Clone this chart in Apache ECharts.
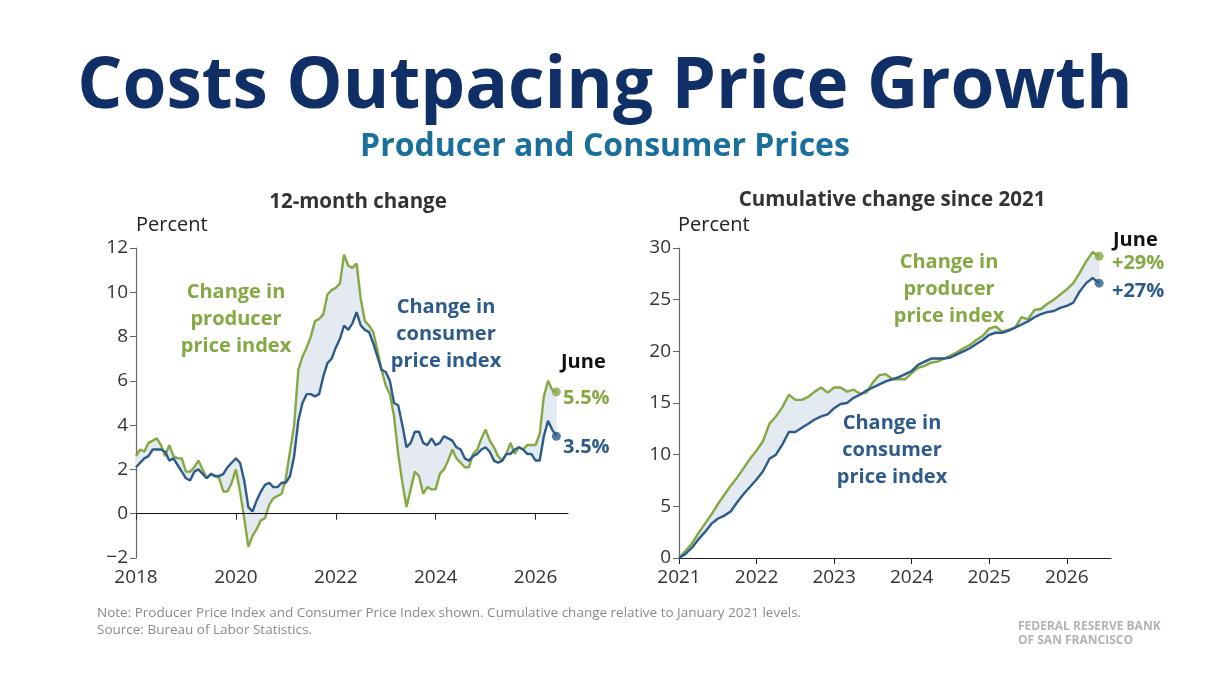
<!DOCTYPE html>
<html>
<head>
<meta charset="utf-8">
<title>Costs Outpacing Price Growth</title>
<script src="https://cdn.jsdelivr.net/npm/echarts@6/dist/echarts.min.js"></script>
<style>
  html, body { margin: 0; padding: 0; background: #fff; }
  #chart { width: 1210px; height: 680px; }
</style>
</head>
<body>
<div id="chart"></div>
<script>
// 12-month change, monthly from Jan 2018 to Jun 2026
const yoyStart = 2018;
const ppiYoY = [
  2.6, 2.9, 2.8, 3.2, 3.3, 3.4, 3.1, 2.6, 3.1, 2.6, 2.5, 2.5,
  1.9, 1.9, 2.1, 2.4, 2.0, 1.6, 1.8, 1.7, 1.6, 1.0, 1.0, 1.4,
  2.0, 1.0, -0.2, -1.5, -1.0, -0.7, -0.3, -0.2, 0.4, 0.7, 0.8, 0.9,
  1.6, 2.8, 4.0, 6.5, 7.1, 7.5, 8.0, 8.7, 8.8, 9.0, 9.9, 10.1,
  10.2, 10.4, 11.7, 11.2, 11.1, 11.3, 9.7, 8.7, 8.5, 8.2, 7.4, 6.5,
  5.8, 5.4, 4.4, 2.7, 1.4, 0.3, 1.1, 1.9, 1.7, 0.9, 1.2, 1.1,
  1.1, 1.8, 2.0, 2.4, 2.9, 2.5, 2.3, 2.1, 2.1, 2.7, 2.9, 3.4,
  3.8, 3.3, 3.0, 2.6, 2.4, 2.7, 3.2, 2.7, 3.0, 2.9, 3.1, 3.1,
  3.1, 3.6, 5.3, 6.0, 5.6, 5.5
];
const cpiYoY = [
  2.1, 2.3, 2.5, 2.6, 2.9, 2.9, 2.9, 2.8, 2.4, 2.5, 2.2, 1.9,
  1.6, 1.5, 1.9, 2.0, 1.8, 1.6, 1.8, 1.7, 1.7, 1.8, 2.1, 2.3,
  2.5, 2.3, 1.5, 0.3, 0.1, 0.6, 1.0, 1.3, 1.4, 1.2, 1.2, 1.4,
  1.4, 1.7, 2.6, 4.2, 5.0, 5.4, 5.4, 5.3, 5.4, 6.2, 6.8, 7.0,
  7.5, 7.9, 8.5, 8.3, 8.6, 9.1, 8.5, 8.3, 8.2, 7.7, 7.1, 6.5,
  6.4, 6.0, 5.0, 4.9, 4.0, 3.0, 3.2, 3.7, 3.7, 3.2, 3.1, 3.4,
  3.1, 3.2, 3.5, 3.4, 3.3, 3.0, 2.9, 2.5, 2.4, 2.6, 2.7, 2.9,
  3.0, 2.8, 2.4, 2.3, 2.4, 2.7, 2.7, 2.9, 3.0, 2.9, 2.7, 2.7,
  2.4, 2.4, 3.5, 4.2, 3.8, 3.5
];

// cumulative change since Jan 2021, monthly from Jan 2021 to Jun 2026
const cumStart = 2021;
const ppiCum = [
  0.0, 0.7, 1.4, 2.4, 3.3, 4.2, 5.2, 6.1, 7.0, 7.8, 8.7, 9.6,
  10.4, 11.3, 13.0, 13.7, 14.6, 15.8, 15.3, 15.3, 15.6, 16.1, 16.5, 16.0,
  16.5, 16.5, 16.1, 16.3, 15.9, 16.0, 17.0, 17.7, 17.8, 17.3, 17.3, 17.3,
  17.9, 18.4, 18.6, 18.9, 19.0, 19.3, 19.6, 19.9, 20.3, 20.6, 21.1, 21.5,
  22.2, 22.4, 21.9, 22.1, 22.3, 23.3, 23.1, 24.0, 24.1, 24.6, 25.0, 25.5,
  26.0, 26.6, 27.6, 28.7, 29.6, 29.2
];
const cpiCum = [
  0.0, 0.4, 1.0, 1.8, 2.5, 3.3, 3.8, 4.1, 4.5, 5.4, 6.2, 6.9,
  7.6, 8.4, 9.6, 10.0, 11.0, 12.2, 12.2, 12.6, 13.0, 13.4, 13.7, 13.9,
  14.5, 14.9, 15.0, 15.5, 15.8, 16.2, 16.5, 16.8, 17.1, 17.3, 17.5, 17.8,
  18.1, 18.7, 19.0, 19.3, 19.3, 19.3, 19.4, 19.7, 20.0, 20.3, 20.7, 21.1,
  21.6, 21.8, 21.8, 22.0, 22.3, 22.6, 22.9, 23.3, 23.6, 23.8, 23.9, 24.2,
  24.4, 24.7, 25.8, 26.6, 27.1, 26.6
];

const yoyYears = [2018, 2020, 2022, 2024, 2026];
const cumYears = [2021, 2022, 2023, 2024, 2025, 2026];

const GREEN = '#84a842';
const BLUE = '#2c5b8a';
const BAND = '#e4eaf1';
const FONT = 'Open Sans';

// month index -> decimal year
function toPairs(values, start) {
  return values.map((v, i) => [start + i / 12, v]);
}
function lastPoint(values, start) {
  const i = values.length - 1;
  return [[start + i / 12, values[i]]];
}

const chart = echarts.init(document.getElementById('chart'));

const axisLabelStyle = { fontFamily: FONT, fontSize: 19, color: '#333' };

// shaded gap between the two lines, one quad per month
function bandSeries(idx, a, b, start) {
  const rows = a.map((v, i) => [start + i / 12, v, b[i]]);
  return {
    type: 'custom', xAxisIndex: idx, yAxisIndex: idx, silent: true, z: 1,
    data: rows,
    renderItem: function (params, api) {
      const i = params.dataIndex;
      if (i >= rows.length - 1) return null;
      const n = rows[i + 1];
      const pts = [
        api.coord([rows[i][0], rows[i][1]]),
        api.coord([n[0], n[1]]),
        api.coord([n[0], n[2]]),
        api.coord([rows[i][0], rows[i][2]])
      ];
      return {
        type: 'polygon',
        shape: { points: pts },
        style: { fill: BAND, stroke: BAND, lineWidth: 0.8 }
      };
    }
  };
}

function lineSeries(idx, values, start, color, extra) {
  return Object.assign({
    type: 'line', xAxisIndex: idx, yAxisIndex: idx,
    data: toPairs(values, start),
    symbol: 'none', lineStyle: { color: color, width: 2.4 }, z: 3
  }, extra || {});
}

function dotSeries(idx, values, start, color) {
  return {
    type: 'scatter', xAxisIndex: idx, yAxisIndex: idx,
    data: lastPoint(values, start), symbolSize: 9,
    itemStyle: { color: color }, z: 4
  };
}

function txt(x, y, text, color, size, weight, align) {
  return {
    type: 'text', x: x, y: y, silent: true,
    style: {
      text: text, fill: color, fontFamily: FONT, fontSize: size,
      fontWeight: weight || 'normal', align: align || 'left', verticalAlign: 'middle'
    }
  };
}

function label3(cx, y0, lines, color) {
  return lines.map((s, i) => txt(cx, y0 + i * 27, s, color, 20, 'bold', 'center'));
}

const option = {
  backgroundColor: '#fff',
  animation: false,
  grid: [
    { left: 136, top: 248, width: 432, height: 310 },
    { left: 679, top: 248, width: 432, height: 310 }
  ],
  xAxis: [
    {
      gridIndex: 0, type: 'value', min: 2018, max: 2026.65,
      axisLine: { show: true, lineStyle: { color: '#222', width: 1.2 } },
      axisTick: { show: true, length: 6, lineStyle: { color: '#222' }, customValues: yoyYears },
      axisLabel: Object.assign({ margin: 10, customValues: yoyYears, formatter: v => String(v) }, axisLabelStyle),
      splitLine: { show: false }
    },
    {
      gridIndex: 1, type: 'value', min: 2021, max: 2026.57,
      axisLine: { show: true, lineStyle: { color: '#222', width: 1.2 } },
      axisTick: { show: true, length: 6, lineStyle: { color: '#222' }, customValues: cumYears },
      axisLabel: Object.assign({ margin: 10, customValues: cumYears, formatter: v => String(v) }, axisLabelStyle),
      splitLine: { show: false }
    }
  ],
  yAxis: [
    {
      gridIndex: 0, type: 'value', min: -2, max: 12, interval: 2,
      axisLine: { show: true, lineStyle: { color: '#666', width: 1.2 } },
      axisTick: { show: true, length: 6, lineStyle: { color: '#666' } },
      axisLabel: Object.assign({ margin: 8, formatter: v => String(v).replace('-', '\u2212') }, axisLabelStyle),
      splitLine: { show: false }
    },
    {
      gridIndex: 1, type: 'value', min: 0, max: 30, interval: 5,
      axisLine: { show: true, lineStyle: { color: '#666', width: 1.2 } },
      axisTick: { show: true, length: 6, lineStyle: { color: '#666' } },
      axisLabel: Object.assign({ margin: 8 }, axisLabelStyle),
      splitLine: { show: false }
    }
  ],
  series: [
    bandSeries(0, ppiYoY, cpiYoY, yoyStart),
    lineSeries(0, ppiYoY, yoyStart, GREEN, {
      markLine: {
        silent: true, symbol: 'none', label: { show: false },
        lineStyle: { color: '#111', width: 1.2, type: 'solid' },
        data: [{ yAxis: 0 }]
      }
    }),
    lineSeries(0, cpiYoY, yoyStart, BLUE),
    dotSeries(0, ppiYoY, yoyStart, GREEN),
    dotSeries(0, cpiYoY, yoyStart, BLUE),
    bandSeries(1, ppiCum, cpiCum, cumStart),
    lineSeries(1, ppiCum, cumStart, GREEN),
    lineSeries(1, cpiCum, cumStart, BLUE),
    dotSeries(1, ppiCum, cumStart, GREEN),
    dotSeries(1, cpiCum, cumStart, BLUE)
  ],
  graphic: [
    txt(605, 88, 'Costs Outpacing Price Growth', '#0f2f66', 71, 'bold', 'center'),
    txt(605, 147, 'Producer and Consumer Prices', '#1a6f9c', 32, 'bold', 'center'),
    txt(358, 202, '12-month change', '#333', 20.5, 'bold', 'center'),
    txt(892, 200, 'Cumulative change since 2021', '#333', 20.5, 'bold', 'center'),
    txt(136, 225, 'Percent', '#222', 20),
    txt(678, 225, 'Percent', '#222', 20),
    ...label3(236, 292, ['Change in', 'producer', 'price index'], GREEN),
    ...label3(446, 307, ['Change in', 'consumer', 'price index'], BLUE),
    txt(561, 362, 'June', '#111', 20, 'bold'),
    txt(563, 398, '5.5%', GREEN, 20, 'bold'),
    txt(563, 447, '3.5%', BLUE, 20, 'bold'),
    ...label3(949, 262, ['Change in', 'producer', 'price index'], GREEN),
    ...label3(892, 423, ['Change in', 'consumer', 'price index'], BLUE),
    txt(1113, 240, 'June', '#111', 20, 'bold'),
    txt(1112, 263, '+29%', GREEN, 20, 'bold'),
    txt(1112, 291, '+27%', BLUE, 20, 'bold'),
    txt(97, 613, 'Note: Producer Price Index and Consumer Price Index shown. Cumulative change relative to January 2021 levels.', '#8a8a8a', 13.5),
    txt(97, 630, 'Source: Bureau of Labor Statistics.', '#8a8a8a', 13.5),
    txt(1018, 627, 'FEDERAL RESERVE BANK', '#b3b3b3', 12, 'bold'),
    txt(1018, 641, 'OF SAN FRANCISCO', '#b3b3b3', 12, 'bold')
  ]
};

chart.setOption(option);
</script>
</body>
</html>
